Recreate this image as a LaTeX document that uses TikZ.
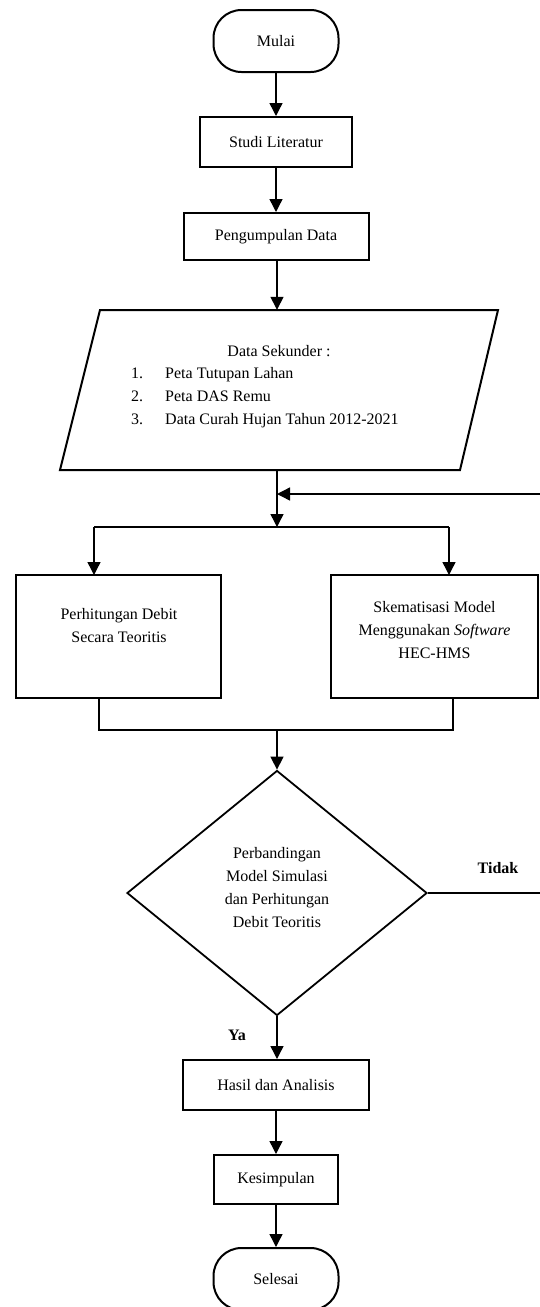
\documentclass[tikz,border=0pt]{standalone}
\usepackage{fontspec}
\setmainfont{Liberation Serif}
\usetikzlibrary{shapes.geometric,arrows.meta}
\begin{document}
\begin{tikzpicture}[x=1pt,y=-1pt,
  font=\fontsize{16}{23}\selectfont,
  box/.style={draw,line width=2pt,rectangle,inner sep=0pt,align=center},
  term/.style={box,rounded corners=28pt},
  arr/.style={line width=1.4pt,-{Triangle[width=13pt,length=13pt]}},
  ln/.style={line width=1.4pt},
  thin/.style={line width=1.1pt},
  lbl/.style={font=\fontsize{16}{18}\selectfont\bfseries}]
\useasboundingbox (0,0) rectangle (540,1307);
% nodes
\node[term,minimum width=125pt,minimum height=62pt] (mulai) at (276,41) {Mulai};
\node[box,minimum width=152pt,minimum height=50pt] (studi) at (276,142) {Studi Literatur};
\node[box,minimum width=185pt,minimum height=47pt] (kumpul) at (276,236.5) {Pengumpulan Data};
\node[inner sep=0pt,minimum width=438pt,minimum height=160pt] (data) at (279,390) {};
\draw[line width=2pt,line join=miter] (100,310) -- (498,310) -- (460,470) -- (60,470) -- cycle;
\node (datat) at (279,351) {Data Sekunder :};
\node[anchor=west,align=left,inner sep=0pt] (datal) at (131,397)
  {\begin{tabular}{@{}l@{\hspace{22pt}}l@{}}1. & Peta Tutupan Lahan\\ 2. & Peta DAS Remu\\ 3. & Data Curah Hujan Tahun 2012-2021\end{tabular}};
\coordinate (split) at (277,527);
\coordinate (fb) at (277,494);
\node[box,minimum width=205pt,minimum height=123pt] (lb) at (118.5,636.5) {};
\node[align=center] (lbt) at (119,625.5) {Perhitungan Debit\\Secara Teoritis};
\node[box,minimum width=207pt,minimum height=123pt] (rb) at (434.5,636.5) {};
\node[align=center] (rbt) at (434.5,630) {Skematisasi Model\\Menggunakan \textit{Software}\\HEC-HMS};
\coordinate (merge) at (277,730);
\node[draw,line width=1.8pt,diamond,minimum width=300pt,minimum height=245pt,inner sep=0pt] (dec) at (277,893) {};
\node[align=center] (dect) at (277,887.5) {Perbandingan\\Model Simulasi\\dan Perhitungan\\Debit Teoritis};
\node[lbl] (tidak) at (498,868) {Tidak};
\node[lbl] (ya) at (237,1035) {Ya};
\node[box,minimum width=186pt,minimum height=50pt] (hasil) at (276,1085) {Hasil dan Analisis};
\node[box,minimum width=124pt,minimum height=49pt] (kes) at (276,1179.5) {Kesimpulan};
\node[term,minimum width=125pt,minimum height=62pt] (selesai) at (276,1279) {Selesai};
\coordinate (corner1) at (546,893);
\coordinate (corner2) at (546,494);
% connectors
\draw[arr] (mulai.south) -- (mulai.south |- studi.north);
\draw[arr] (studi.south) -- (studi.south |- kumpul.north);
\draw[arr] (kumpul.south -| fb) -- (fb |- data.north);
\draw[arr] (fb |- data.south) -- (split);
\draw[thin] (94,527) -- (449,527);
\draw[arr] (94,527) -- (94,575);
\draw[arr] (449,527) -- (449,575);
\draw[thin] (99,698) -- (99,730) -- (453,730) -- (453,698);
\draw[arr] (merge) -- (dec.north);
\draw[ln] (dec.east) -- (corner1) -- (corner2);
\draw[arr] (corner2) -- (fb);
\draw[arr] (dec.south) -- (dec.south |- hasil.north);
\draw[arr] (hasil.south) -- (hasil.south |- kes.north);
\draw[arr] (kes.south) -- (kes.south |- selesai.north);
\end{tikzpicture}
\end{document}
